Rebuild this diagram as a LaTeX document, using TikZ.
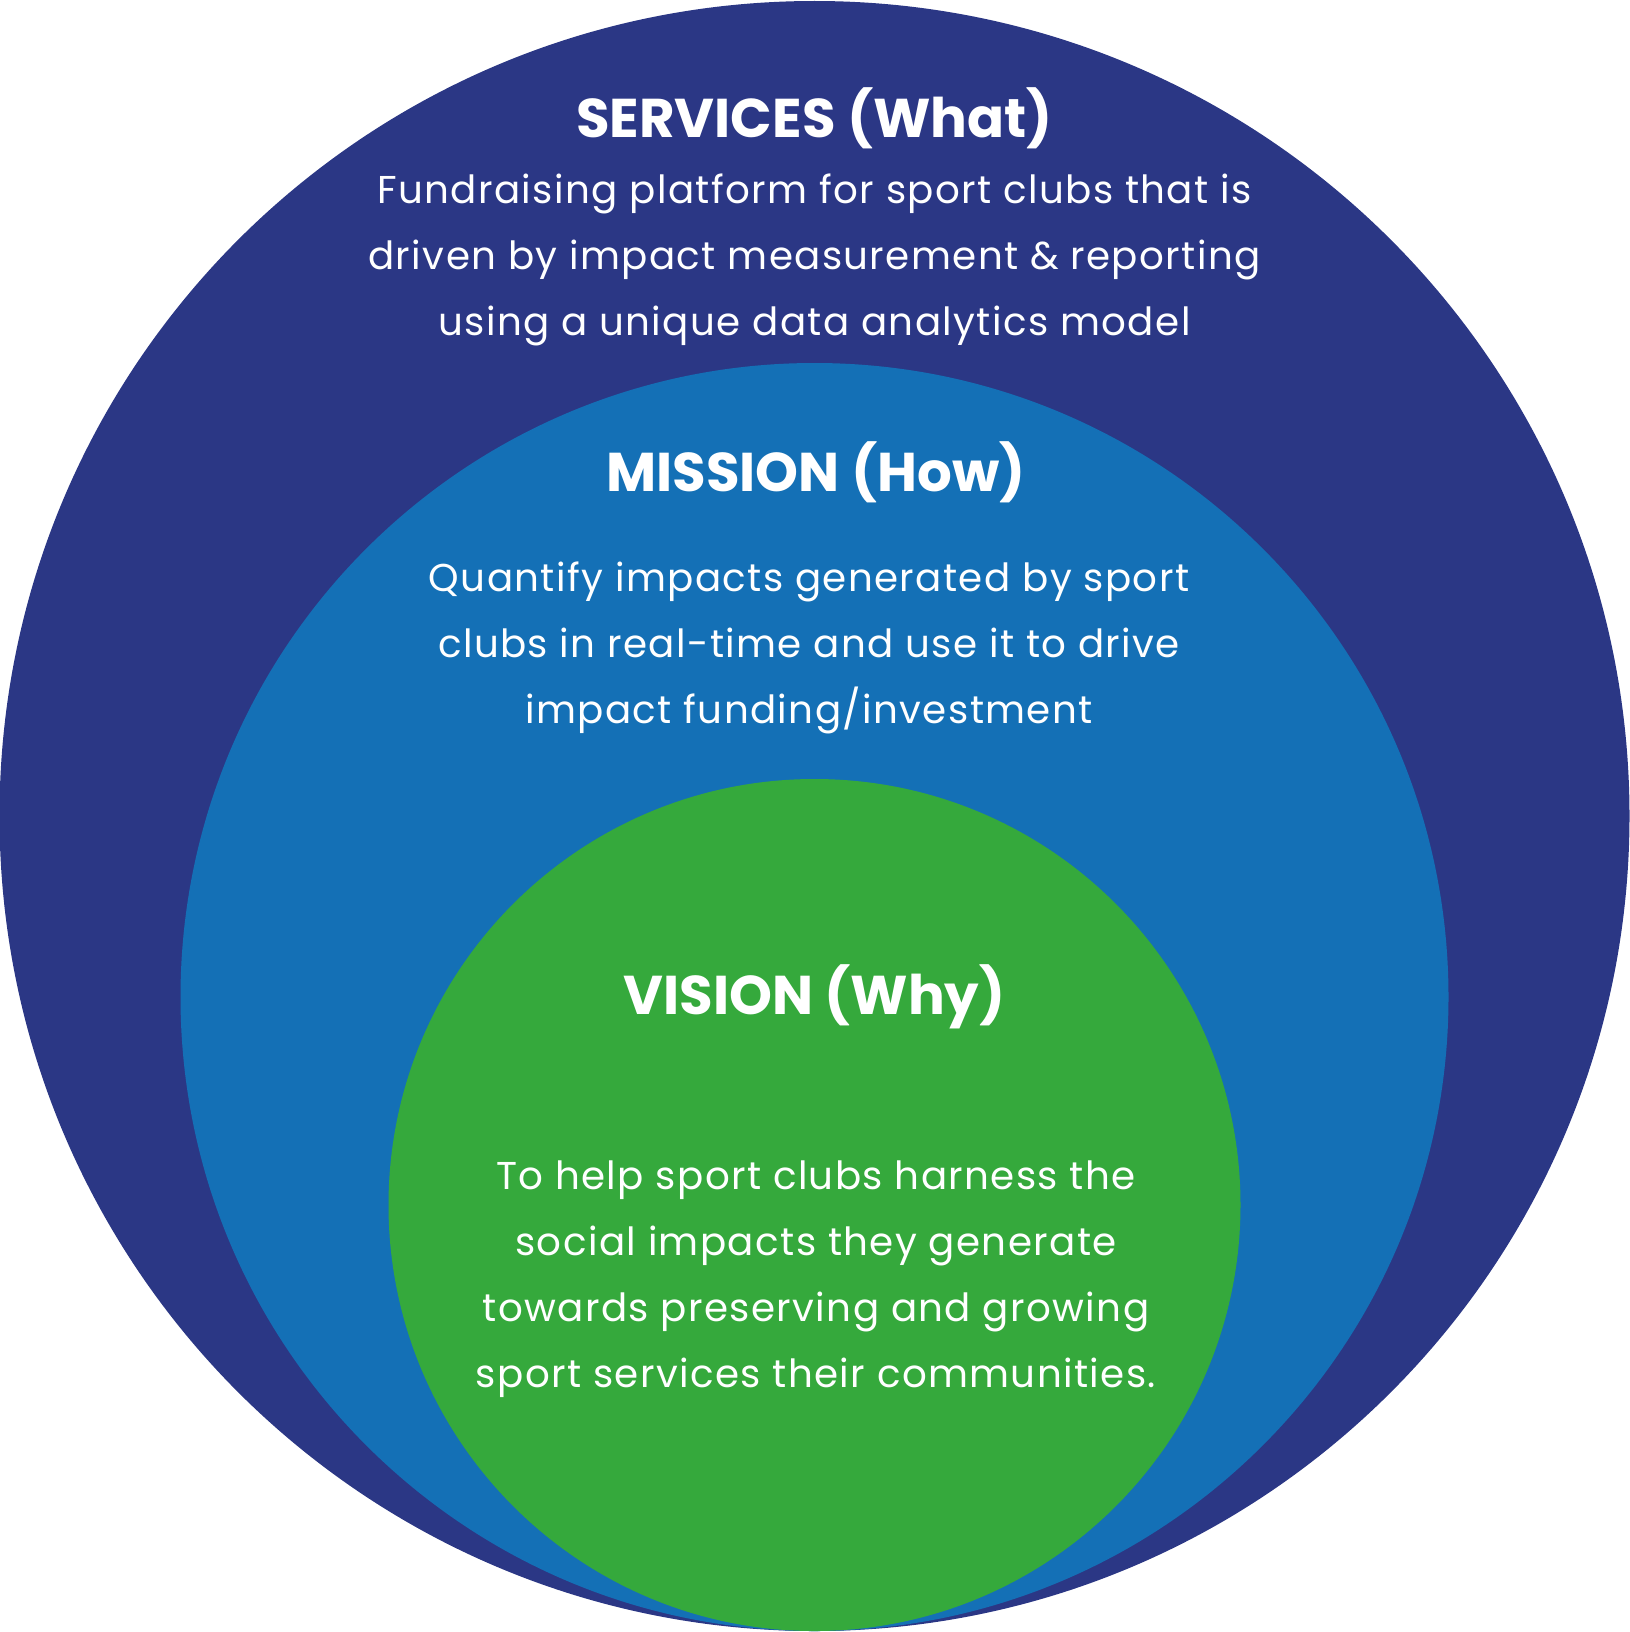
\documentclass[tikz,border=0pt]{standalone}
\usepackage{fontspec}
\setmainfont{Poppins}
\newfontfamily\bodyfont[LetterSpace=3.6]{Poppins}
\begin{document}
\begin{tikzpicture}[x=0.5pt,y=-0.5pt,
  heading/.style={text=white,anchor=base,inner sep=0pt,
    font=\fontsize{27.3pt}{33pt}\selectfont\bfseries},
  body/.style={text=white,anchor=base,inner sep=0pt,align=center,
    font=\bodyfont\fontsize{19.4pt}{33pt}\selectfont}]
\definecolor{navy}{RGB}{43,55,133}
\definecolor{midblue}{RGB}{20,112,182}
\definecolor{leafgreen}{RGB}{53,169,60}
\useasboundingbox (0,0) rectangle (1629,1632);
% three nested circles touching at the bottom
\fill[navy] (814.5,816) circle[radius=815];
\fill[midblue] (814.5,997) circle[radius=634];
\fill[leafgreen] (814.5,1205) circle[radius=426];
% services (body anchored at the baseline of its last line)
\node[heading] (servicesT) at (814.5,137) {SERVICES (What)};
\node[body] (servicesB) at (814.5,335) {Fundraising platform for sport clubs that is\\driven by impact measurement \& reporting\\using a unique data analytics model};
% mission
\node[heading] (missionT) at (816,491) {MISSION (How)};
\node[body] (missionB) at (809,723) {Quantify impacts generated by sport\\clubs in real-time and use it to drive\\impact funding/investment};
% vision
\node[heading] (visionT) at (814.5,1014) {VISION (Why)};
\node[body] (visionB) at (816,1387) {To help sport clubs harness the\\social impacts they generate\\towards preserving and growing\\sport services their communities.};
\end{tikzpicture}
\end{document}
